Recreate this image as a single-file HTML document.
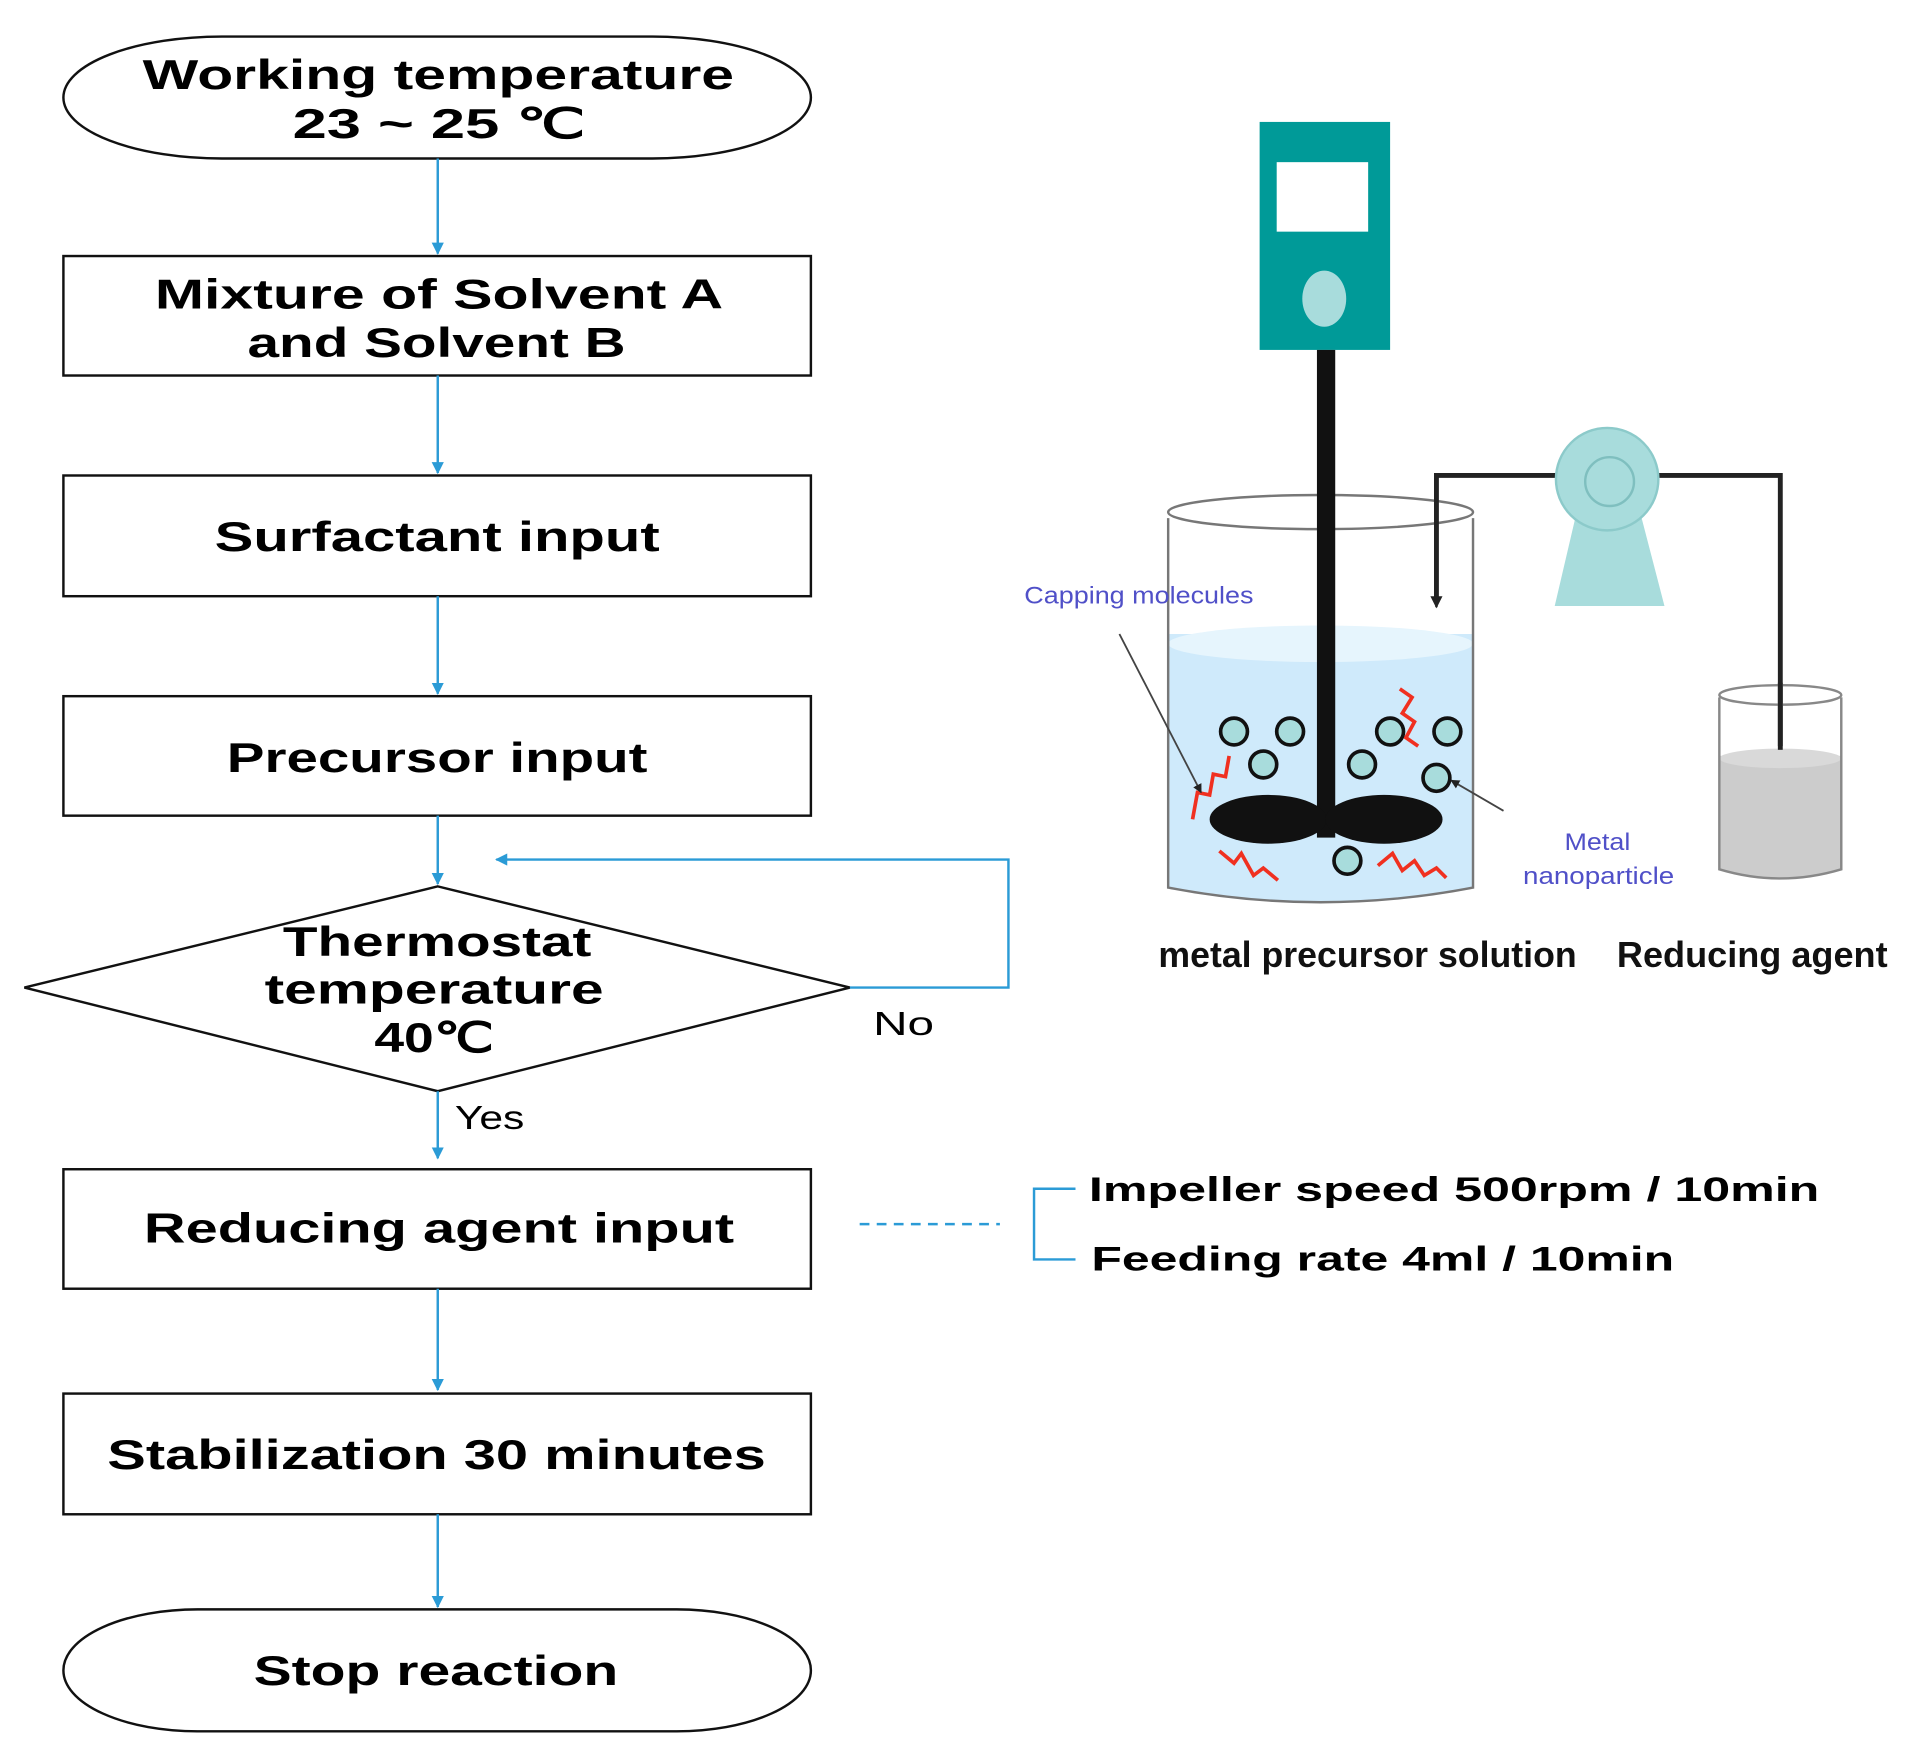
<!DOCTYPE html>
<html><head><meta charset="utf-8"><style>html,body{margin:0;padding:0;background:#fff}svg{display:block}</style></head>
<body>
<svg width="1912" height="1763" viewBox="0 0 1568 1446" preserveAspectRatio="none" xmlns="http://www.w3.org/2000/svg">
<defs>
<marker id="a" viewBox="0 0 10 10" refX="9" refY="5" markerWidth="5" markerHeight="5" orient="auto"><path d="M0,0L10,5L0,10z" fill="#2b9bd6"/></marker>
<marker id="k" viewBox="0 0 10 10" refX="9" refY="5" markerWidth="5" markerHeight="5" orient="auto"><path d="M0,0L10,5L0,10z" fill="#222"/></marker>
</defs>
<g font-family="Liberation Sans, sans-serif" font-weight="bold" fill="#000" text-anchor="start">
<g fill="none" stroke="#111" stroke-width="2">
<rect x="52" y="30" width="613" height="100" rx="130" ry="50"/>
<rect x="52" y="210" width="613" height="98"/>
<rect x="52" y="390" width="613" height="99"/>
<rect x="52" y="571" width="613" height="98"/>
<polygon points="359,727 697,810 359,895 20,810"/>
<rect x="52" y="959" width="613" height="98"/>
<rect x="52" y="1143" width="613" height="99"/>
<rect x="52" y="1320" width="613" height="100" rx="110" ry="50"/>
</g>
<g stroke="#2b9bd6" stroke-width="2" fill="none">
<line x1="359" y1="130" x2="359" y2="208" marker-end="url(#a)"/>
<line x1="359" y1="308" x2="359" y2="388" marker-end="url(#a)"/>
<line x1="359" y1="489" x2="359" y2="569" marker-end="url(#a)"/>
<line x1="359" y1="669" x2="359" y2="725" marker-end="url(#a)"/>
<polyline points="697,810 827,810 827,705 407,705" marker-end="url(#a)"/>
<line x1="359" y1="895" x2="359" y2="950" marker-end="url(#a)"/>
<line x1="359" y1="1057" x2="359" y2="1140" marker-end="url(#a)"/>
<line x1="359" y1="1242" x2="359" y2="1318" marker-end="url(#a)"/>
<line x1="705" y1="1004" x2="820" y2="1004" stroke-dasharray="8,6"/>
<polyline points="882,975 848,975 848,1033 882,1033"/>
</g>
<g font-size="34">
<text x="117" y="73" textLength="485" lengthAdjust="spacingAndGlyphs">Working temperature</text>
<text x="240" y="113" textLength="240" lengthAdjust="spacingAndGlyphs">23 ~ 25 ℃</text>
<text x="127" y="253" textLength="466" lengthAdjust="spacingAndGlyphs">Mixture of Solvent A</text>
<text x="203" y="293" textLength="310" lengthAdjust="spacingAndGlyphs">and Solvent B</text>
<text x="176" y="452" textLength="365" lengthAdjust="spacingAndGlyphs">Surfactant input</text>
<text x="186" y="633" textLength="345" lengthAdjust="spacingAndGlyphs">Precursor input</text>
<text x="232" y="784" textLength="253" lengthAdjust="spacingAndGlyphs">Thermostat</text>
<text x="217" y="823" textLength="278" lengthAdjust="spacingAndGlyphs">temperature</text>
<text x="307" y="863" textLength="98" lengthAdjust="spacingAndGlyphs">40℃</text>
<text x="118" y="1019" textLength="484" lengthAdjust="spacingAndGlyphs">Reducing agent input</text>
<text x="88" y="1205" textLength="540" lengthAdjust="spacingAndGlyphs">Stabilization 30 minutes</text>
<text x="208" y="1382" textLength="299" lengthAdjust="spacingAndGlyphs">Stop reaction</text>
</g>
<g font-size="27" font-weight="normal">
<text x="716" y="849" textLength="50" lengthAdjust="spacingAndGlyphs">No</text>
<text x="373" y="926" textLength="57" lengthAdjust="spacingAndGlyphs">Yes</text>
</g>
<g font-size="28">
<text x="893" y="985" textLength="599" lengthAdjust="spacingAndGlyphs">Impeller speed 500rpm / 10min</text>
<text x="895" y="1042" textLength="478" lengthAdjust="spacingAndGlyphs">Feeding rate 4ml / 10min</text>
</g>
<rect x="1033" y="100" width="107" height="187" fill="#009a98"/>
<rect x="1047" y="133" width="75" height="57" fill="#fff"/>
<ellipse cx="1086" cy="245" rx="18" ry="23" fill="#a8dcdc"/>
<path d="M958,520 L958,728 Q1083,752 1208,728 L1208,520 Z" fill="#cfeafb"/>
<ellipse cx="1083" cy="528" rx="125" ry="15" fill="#e6f5fd"/>
<path d="M958,425 L958,728 Q1083,752 1208,728 L1208,425" fill="none" stroke="#777" stroke-width="2"/>
<ellipse cx="1083" cy="420" rx="125" ry="14" fill="none" stroke="#777" stroke-width="2"/>
<rect x="1080" y="287" width="15" height="400" fill="#111"/>
<ellipse cx="1040" cy="672" rx="48" ry="20" fill="#111"/>
<ellipse cx="1135" cy="672" rx="48" ry="20" fill="#111"/>
<g fill="#a8dcdc" stroke="#111" stroke-width="3">
<circle cx="1012" cy="600" r="11"/><circle cx="1058" cy="600" r="11"/><circle cx="1036" cy="627" r="11"/>
<circle cx="1140" cy="600" r="11"/><circle cx="1187" cy="600" r="11"/><circle cx="1117" cy="627" r="11"/>
<circle cx="1178" cy="638" r="11"/><circle cx="1105" cy="706" r="11"/>
</g>
<g fill="none" stroke="#f03020" stroke-width="3">
<polyline points="978,672 982,650 992,652 995,635 1005,637 1008,620"/>
<polyline points="1000,698 1012,708 1018,700 1028,718 1036,712 1048,722"/>
<polyline points="1130,710 1142,700 1150,714 1160,706 1168,718 1178,712 1186,720"/>
<polyline points="1148,565 1158,572 1150,585 1160,592 1153,605 1163,612"/>
</g>
<polyline points="1178,490 1178,390 1460,390 1460,612" fill="none" stroke="#222" stroke-width="4"/>
<line x1="1178" y1="480" x2="1178" y2="498" stroke="#222" stroke-width="2" marker-end="url(#k)"/>
<polygon points="1293,420 1345,420 1365,497 1275,497" fill="#a8dcdc"/>
<circle cx="1318" cy="393" r="42" fill="#a8dcdc" stroke="#8ccaca" stroke-width="2"/>
<circle cx="1320" cy="395" r="20" fill="#a8dcdc" stroke="#7fbfbf" stroke-width="2"/>
<path d="M1410,620 L1410,713 Q1460,728 1510,713 L1510,620 Z" fill="#cccccc"/>
<ellipse cx="1460" cy="622" rx="50" ry="8" fill="#d9d9d9"/>
<path d="M1410,572 L1410,713 Q1460,728 1510,713 L1510,572" fill="none" stroke="#888" stroke-width="2"/>
<ellipse cx="1460" cy="570" rx="50" ry="8" fill="none" stroke="#888" stroke-width="2"/>
<rect x="1458" y="560" width="4" height="55" fill="#222"/>
<line x1="918" y1="520" x2="985" y2="650" stroke="#444" stroke-width="1.5" marker-end="url(#k)"/>
<line x1="1233" y1="665" x2="1190" y2="640" stroke="#444" stroke-width="1.5" marker-end="url(#k)"/>
<g fill="#5050c8" font-size="20" font-weight="normal">
<text x="840" y="495" textLength="188" lengthAdjust="spacingAndGlyphs">Capping molecules</text>
<text x="1283" y="697" textLength="54" lengthAdjust="spacingAndGlyphs">Metal</text>
<text x="1249" y="725" textLength="124" lengthAdjust="spacingAndGlyphs">nanoparticle</text>
</g>
<g font-size="30" fill="#111">
<text x="950" y="793" textLength="343" lengthAdjust="spacingAndGlyphs">metal precursor solution</text>
<text x="1326" y="793" textLength="222" lengthAdjust="spacingAndGlyphs">Reducing agent</text>
</g>
</g>
</svg>
</body></html>
